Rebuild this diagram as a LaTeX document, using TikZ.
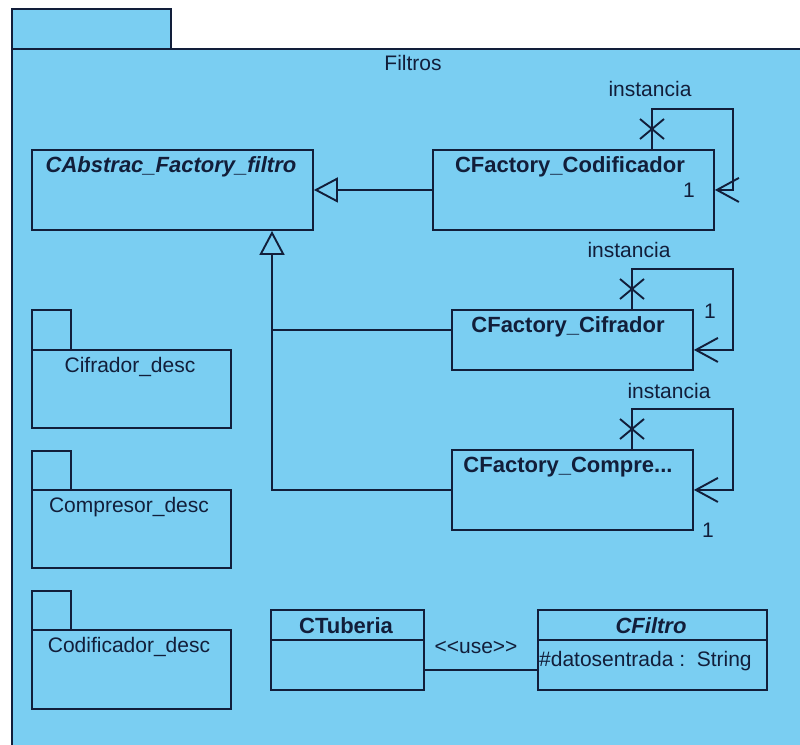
\documentclass[tikz,border=0pt]{standalone}
\usepackage{fontspec}
\setmainfont{Liberation Sans}
\usetikzlibrary{arrows.meta,calc}
\definecolor{umlfill}{RGB}{122,206,242}
\definecolor{umlline}{RGB}{18,30,58}
\begin{document}
\begin{tikzpicture}[x=1pt,y=-1pt,
  box/.style={draw=umlline, fill=umlfill, line width=1.9pt, rectangle, inner sep=0pt, anchor=north west},
  txt/.style={font=\fontsize{21}{25}\selectfont, text=umlline, inner sep=0pt},
  ttl/.style={font=\fontsize{22}{26}\selectfont\bfseries, text=umlline, inner sep=0pt},
  ttli/.style={font=\fontsize{22}{26}\selectfont\bfseries\itshape, text=umlline, inner sep=0pt},
  conn/.style={draw=umlline, line width=1.9pt},
  gen/.style={conn, -{Triangle[length=24pt,width=25pt,fill=umlfill,line width=1.9pt]}},
  barb/.style={conn, -{Straight Barb[length=22pt,width=24pt,line width=1.9pt]}},
  xmark/.style={conn}]
\useasboundingbox (0,0) rectangle (800,744);
\fill[white] (0,0) rectangle (800,744);
% outer package
\node[box, minimum width=820pt, minimum height=740pt] (outer) at (11,48) {};
\node[box, minimum width=159pt, minimum height=40pt] (outertab) at (11,8) {};
\node[txt] (filtros) at (413,63) {Filtros};
% classes
\node[box, minimum width=281pt, minimum height=80pt] (abs) at (31,149) {};
\node[ttli] (absT) at (171,167) {CAbstrac\_Factory\_filtro};
\node[box, minimum width=281pt, minimum height=80pt] (cod) at (432,149) {};
\node[ttl] (codT) at (570,167) {CFactory\_Codificador};
\node[box, minimum width=241pt, minimum height=60pt] (cif) at (451,309) {};
\node[ttl] (cifT) at (568,327) {CFactory\_Cifrador};
\node[box, minimum width=241pt, minimum height=80pt] (comp) at (451,449) {};
\node[ttl] (compT) at (568,467) {CFactory\_Compre...};
% left packages
\node[box, minimum width=39pt, minimum height=40pt] (p1tab) at (31,309) {};
\node[box, minimum width=199pt, minimum height=78pt] (p1) at (31,349) {};
\node[txt] (p1T) at (130,367) {Cifrador\_desc};
\node[box, minimum width=39pt, minimum height=39pt] (p2tab) at (31,450) {};
\node[box, minimum width=199pt, minimum height=78pt] (p2) at (31,489) {};
\node[txt] (p2T) at (129,507) {Compresor\_desc};
\node[box, minimum width=39pt, minimum height=39pt] (p3tab) at (31,590) {};
\node[box, minimum width=199pt, minimum height=79pt] (p3) at (31,629) {};
\node[txt] (p3T) at (129,647) {Codificador\_desc};
% bottom classes
\node[box, minimum width=153pt, minimum height=80pt] (tub) at (270,609) {};
\draw[conn] ([yshift=-31pt]tub.north west) -- ([yshift=-31pt]tub.north east);
\node[ttl] (tubT) at (346,626) {CTuberia};
\node[box, minimum width=229pt, minimum height=80pt] (fil) at (537,609) {};
\draw[conn] ([yshift=-31pt]fil.north west) -- ([yshift=-31pt]fil.north east);
\node[ttli] (filT) at (651,626) {CFiltro};
\node[txt, anchor=west] (filA) at (539,661) {\#datosentrada :\ \ String};
% use association
\draw[conn] ([yshift=-20pt]tub.east) -- ([yshift=-20pt]fil.west);
\node[txt] (useL) at (476,647) {<\kern0pt<use>\kern0pt>};
% generalizations
\draw[gen] (cod.west) -- (abs.east);
\coordinate (gtip) at ($(abs.south west)+(241,0)$);
\draw[gen] ([yshift=10pt]cif.west) -| (gtip);
\draw[conn] (comp.west) -| ($(gtip)+(0,100)$);
% self loops
\draw[barb] ([xshift=220pt]cod.north west) -- ++(0,-40) -- ++(81,0) |- (cod.east);
\coordinate (x1) at ([xshift=220pt,yshift=20pt]cod.north west);
\draw[xmark] ($(x1)+(-12,-10)$) -- ($(x1)+(12,10)$) ($(x1)+(-12,10)$) -- ($(x1)+(12,-10)$);
\node[txt] (inst1) at (650,89) {instancia};
\node[txt] (one1) at (689,190) {1};

\draw[barb] ([xshift=181pt]cif.north west) -- ++(0,-40) -- ++(101,0) |- ([yshift=-10pt]cif.east);
\coordinate (x2) at ([xshift=181pt,yshift=20pt]cif.north west);
\draw[xmark] ($(x2)+(-12,-10)$) -- ($(x2)+(12,10)$) ($(x2)+(-12,10)$) -- ($(x2)+(12,-10)$);
\node[txt] (inst2) at (629,250) {instancia};
\node[txt] (one2) at (710,311) {1};

\draw[barb] ([xshift=181pt]comp.north west) -- ++(0,-40) -- ++(101,0) |- (comp.east);
\coordinate (x3) at ([xshift=181pt,yshift=20pt]comp.north west);
\draw[xmark] ($(x3)+(-12,-10)$) -- ($(x3)+(12,10)$) ($(x3)+(-12,10)$) -- ($(x3)+(12,-10)$);
\node[txt] (inst3) at (669,391) {instancia};
\node[txt] (one3) at (708,530) {1};
\end{tikzpicture}
\end{document}
